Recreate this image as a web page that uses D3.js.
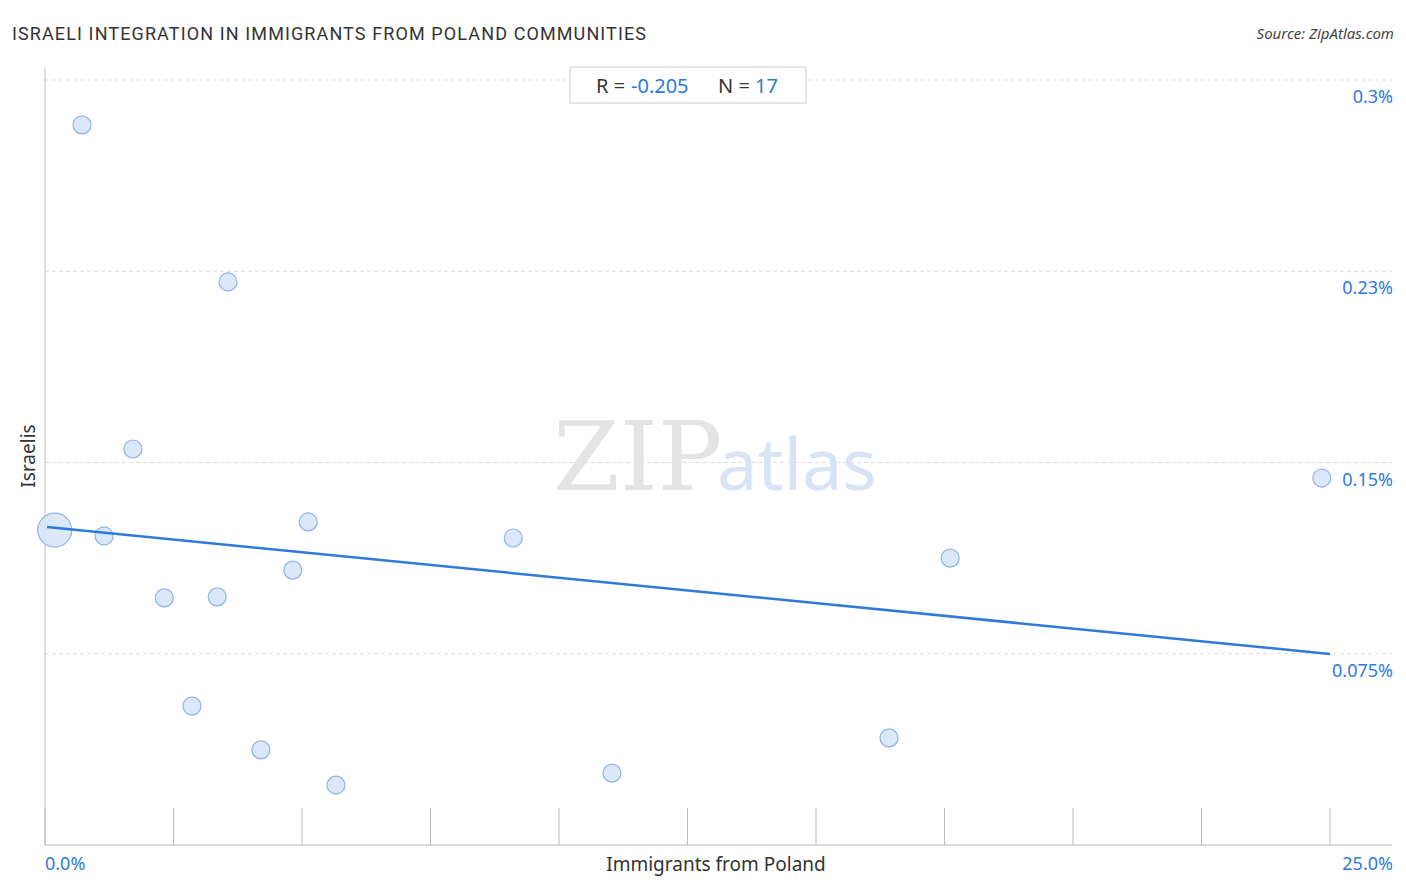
<!DOCTYPE html>
<html><head><meta charset="utf-8">
<script src="https://cdn.jsdelivr.net/npm/d3@7"></script>
<style>body{margin:0;background:#fff;font-family:"Noto Sans",Roboto,sans-serif}</style>
</head><body><svg id="c" width="1406" height="892"></svg>
<script>
// values (x in %, y in %)
var xVals = [0.19, 0.72, 1.15, 1.71, 2.32, 2.86, 3.35, 3.56, 4.20, 4.82, 5.12, 5.66, 9.11, 11.03, 16.42, 17.61, 24.84];
var yVals = [0.1235, 0.2824, 0.1212, 0.1553, 0.0969, 0.0545, 0.0973, 0.2208, 0.0373, 0.1078, 0.1267, 0.0235, 0.1204, 0.0282, 0.0420, 0.1125, 0.1439];
var sizes = [17, 9, 9, 9, 9, 9, 9, 9, 9, 9, 9, 9, 9, 9, 9, 9, 9];
var yTicks = [0.075, 0.15, 0.225, 0.3];
var yTickLabels = ["0.075%", "0.15%", "0.23%", "0.3%"];
var trendX = [0.04, 25];
var trendY = [0.1247, 0.0749];

var svg = d3.select("#c");
var x = d3.scaleLinear().domain([0, 25]).range([45, 1330]);
var y = d3.scaleLinear().domain([0, 0.3]).range([845, 80]);
var blue = "#2f7ad9";

// gridlines
svg.selectAll(".grid").data(yTicks).enter().append("line")
  .attr("x1", 45).attr("x2", 1392)
  .attr("y1", d => y(d)).attr("y2", d => y(d))
  .attr("stroke", "#ddd").attr("stroke-dasharray", "4,3");
svg.selectAll(".yl").data(yTicks).enter().append("text")
  .attr("x", 1393).attr("y", d => y(d) + 23).attr("text-anchor", "end")
  .attr("fill", blue).attr("font-size", 18).text((d, i) => yTickLabels[i]);

// axes
svg.append("line").attr("x1", 45).attr("x2", 45).attr("y1", 68).attr("y2", 845).attr("stroke", "#bbb");
svg.append("line").attr("x1", 45).attr("x2", 1392).attr("y1", 845).attr("y2", 845).attr("stroke", "#bbb");
svg.selectAll(".xt").data(d3.range(0, 25.01, 2.5)).enter().append("line")
  .attr("x1", d => x(d)).attr("x2", d => x(d)).attr("y1", 808).attr("y2", 845).attr("stroke", "#bbb");
svg.append("text").attr("x", 45).attr("y", 870).attr("fill", blue).attr("font-size", 18).text("0.0%");
svg.append("text").attr("x", 1393).attr("y", 870).attr("text-anchor", "end").attr("fill", blue).attr("font-size", 18).text("25.0%");
svg.append("text").attr("x", 716).attr("y", 871).attr("text-anchor", "middle").attr("fill", "#333").attr("font-size", 19).text("Immigrants from Poland");
svg.append("text").attr("transform", "translate(35,456) rotate(-90)").attr("text-anchor", "middle").attr("fill", "#333").attr("font-size", 19).text("Israelis");

// watermark
svg.append("text").attr("x", 553).attr("y", 490).attr("font-family", "DejaVu Serif,serif").attr("font-size", 96).attr("fill", "#e4e4e4").text("ZIP");
svg.append("text").attr("x", 717).attr("y", 490).attr("font-size", 72).attr("fill", "#d6e4f6").text("atlas");

// points
svg.selectAll(".pt").data(xVals).enter().append("circle")
  .attr("cx", d => x(d)).attr("cy", (d, i) => y(yVals[i])).attr("r", (d, i) => sizes[i])
  .attr("fill", "#d4e4f9").attr("fill-opacity", 0.85).attr("stroke", "#8fb4e6").attr("stroke-width", 1.2);

// trend
svg.append("line").attr("x1", x(trendX[0])).attr("x2", x(trendX[1]))
  .attr("y1", y(trendY[0])).attr("y2", y(trendY[1])).attr("stroke", blue).attr("stroke-width", 2.5);

// title / source
svg.append("text").attr("x", 12).attr("y", 40).attr("font-size", 18).attr("font-family", "Roboto,sans-serif").attr("textLength", 634).attr("fill", "#333").text("ISRAELI INTEGRATION IN IMMIGRANTS FROM POLAND COMMUNITIES");
svg.append("text").attr("x", 1394).attr("y", 39).attr("text-anchor", "end").attr("font-size", 15).attr("font-style", "italic").attr("fill", "#444").text("Source: ZipAtlas.com");

// R/N box
svg.append("rect").attr("x", 570).attr("y", 67).attr("width", 236).attr("height", 36).attr("fill", "#fff").attr("stroke", "#ccc");
svg.append("text").attr("x", 596).attr("y", 93).attr("font-size", 20).attr("fill", "#333").text("R =");
svg.append("text").attr("x", 631).attr("y", 93).attr("font-size", 20).attr("fill", blue).text("-0.205");
svg.append("text").attr("x", 718).attr("y", 93).attr("font-size", 20).attr("fill", "#333").text("N =");
svg.append("text").attr("x", 755).attr("y", 93).attr("font-size", 20).attr("fill", blue).text("17");
</script></body></html>
